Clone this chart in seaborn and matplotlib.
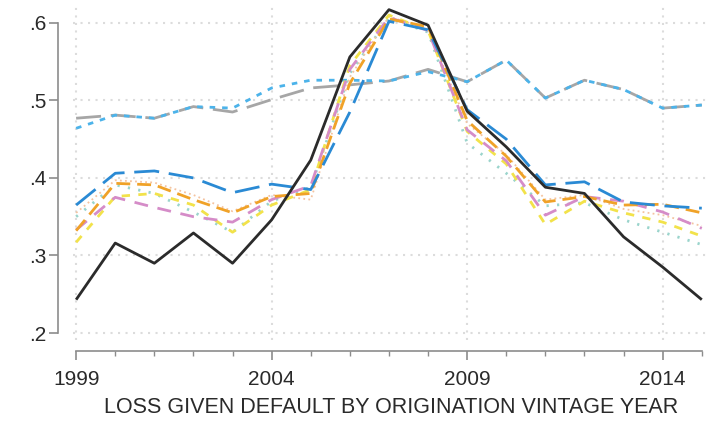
import numpy as np
import pandas as pd
import matplotlib
matplotlib.use("Agg")
import matplotlib.pyplot as plt
from matplotlib.ticker import FixedLocator, FuncFormatter
import seaborn as sns

# ── Data ─────────────────────────────────────────────────────────────────────
years = list(range(1999, 2016))

black     = [.243, .316, .290, .329, .290, .346, .423, .556, .617, .597, .486, .440, .388, .380, .324, .285, .243]
blue      = [.365, .406, .409, .400, .381, .392, .385, .485, .602, .591, .488, .450, .391, .395, .369, .364, .361]
orange    = [.332, .393, .391, .372, .355, .376, .380, .522, .605, .595, .474, .428, .369, .376, .365, .366, .355]
peach     = [.355, .397, .394, .378, .357, .378, .372, .530, .608, .592, .470, .430, .372, .378, .360, .352, .338]
pink      = [.333, .375, .362, .350, .343, .372, .390, .540, .607, .590, .462, .422, .352, .376, .370, .356, .335]
yellow    = [.317, .376, .380, .365, .330, .365, .385, .545, .610, .590, .460, .418, .340, .370, .355, .343, .325]
teal      = [.350, .391, .380, .356, .330, .370, .388, .535, .606, .588, .445, .406, .364, .368, .346, .330, .314]
grey      = [.477, .481, .477, .492, .485, .501, .516, .520, .525, .540, .524, .552, .503, .526, .514, .490, .494]
lightblue = [.464, .481, .477, .492, .490, .516, .526, .526, .525, .537, .524, .552, .503, .526, .514, .490, .494]

series = {
    "grey": grey, "lightblue": lightblue, "teal": teal, "peach": peach,
    "yellow": yellow, "pink": pink, "orange": orange, "blue": blue, "black": black,
}
xticks = [1999, 2004, 2009, 2014]
yticks = [.2, .3, .4, .5, .6]
xlabel = "LOSS GIVEN DEFAULT BY ORIGINATION VINTAGE YEAR"

# ── Style ────────────────────────────────────────────────────────────────────
sns.set_style("white")
plt.rcParams["font.family"] = ["Liberation Sans", "DejaVu Sans"]

palette = {
    "black": "#2b2b2b", "blue": "#2a8ad4", "orange": "#f0a228", "peach": "#f4c3a0",
    "pink": "#d58cc8", "yellow": "#f2e24a", "teal": "#9ad4cc", "grey": "#a6a6a6",
    "lightblue": "#4cb3ea",
}
dashes = {
    "black": "", "blue": (9, 3.5), "orange": (5, 2.5), "peach": (1, 1.8),
    "pink": (5, 3.5), "yellow": (3, 3), "teal": (0.8, 3), "grey": (9, 3.5),
    "lightblue": (2, 2.5),
}
widths = {"peach": 1.3}

df = pd.DataFrame([(name, yr, v) for name, vals in series.items()
                   for yr, v in zip(years, vals)], columns=["series", "year", "lgd"])

fig = plt.figure(figsize=(7.14, 4.25), dpi=100)
ax = fig.add_axes([73 / 714, 1 - 340 / 425, (710 - 73) / 714, (340 - 5) / 425])

# grid first
for yv in yticks:
    ax.axhline(yv, color="#dcdcdc", lw=1.5, ls=(0, (1, 2.6)), zorder=0)
for xv in xticks:
    ax.axvline(xv, color="#dcdcdc", lw=1.5, ls=(0, (1, 2.6)), zorder=0)

for name in series:
    sub = df[df["series"] == name]
    sns.lineplot(data=sub, x="year", y="lgd", ax=ax, color=palette[name],
                 lw=widths.get(name, 2.0), legend=False, estimator=None)
    line = ax.lines[-1]
    if dashes[name]:
        line.set_dashes(dashes[name])
    line.set_solid_capstyle("butt")

ax.set_xlim(1998.92, 2015.21)
ax.set_ylim(0.191, 0.623)

for s in ["top", "right"]:
    ax.spines[s].set_visible(False)
for s in ["left", "bottom"]:
    ax.spines[s].set_color("#8c8c8c")
    ax.spines[s].set_linewidth(1.2)
ax.spines["left"].set_position(("outward", 10.8))
ax.spines["bottom"].set_position(("outward", 8))
ax.spines["left"].set_bounds(0.2, 0.6)
ax.spines["bottom"].set_bounds(1999, 2015)

ax.yaxis.set_major_locator(FixedLocator(yticks))
ax.yaxis.set_major_formatter(FuncFormatter(lambda v, p: f"{v:.1f}".lstrip("0")))
ax.xaxis.set_major_locator(FixedLocator(xticks))
ax.xaxis.set_minor_locator(FixedLocator(years))
ax.tick_params(axis="both", which="major", direction="out", length=6.5, width=1.2,
               color="#8c8c8c", labelsize=15, labelcolor="#2a2a2a", left=True, bottom=True)
ax.tick_params(axis="x", which="minor", direction="out", length=3.5, width=1.0,
               color="#8c8c8c", bottom=True)
ax.tick_params(axis="y", pad=2)
ax.tick_params(axis="x", pad=7)
ax.set_ylabel("")
ax.set_xlabel(xlabel, fontsize=15.5, color="#2a2a2a", labelpad=6)

plt.savefig("out.png", dpi=100)
